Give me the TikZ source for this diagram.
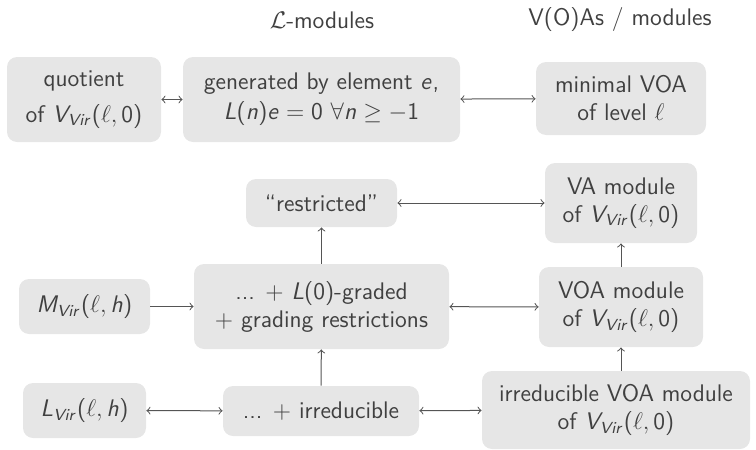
\documentclass[tikz,border=0pt]{standalone}
\usepackage{amsmath}
\usepackage{amssymb}
\usepackage{tikz}

% sans serif math, as on the slides
\DeclareSymbolFont{operators}{OT1}{cmss}{m}{n}
\DeclareSymbolFont{sfletters}{OT1}{cmss}{m}{sl}
\newcommand{\sfletter}[1]{\DeclareMathSymbol{#1}{\mathalpha}{sfletters}{`#1}}
\sfletter{V}\sfletter{i}\sfletter{r}\sfletter{L}\sfletter{M}\sfletter{n}\sfletter{e}\sfletter{h}
\newcommand{\Vvir}{V_{Vir}(\ell,0)}

\definecolor{boxgray}{HTML}{E6E6E6}
\definecolor{textgray}{HTML}{404040}
\definecolor{linegray}{HTML}{555555}

\begin{document}
\begin{tikzpicture}[x=0.5pt,y=-0.5pt,
    box/.style={fill=boxgray,rounded corners=5pt,inner sep=0pt,align=center,
      text=textgray,font=\sffamily\fontsize{12}{14}\selectfont},
    head/.style={text=textgray,font=\sffamily\fontsize{12}{14}\selectfont},
    link/.style={draw=linegray,line width=0.5pt}]
  \useasboundingbox (0,0) rectangle (756,450);
  \node[head] (lmod) at (322,20) {$\mathcal{L}$-modules};
  \node[head] (voas) at (620,20) {V(O)As / modules};
  % top row
  \node[box,minimum width=77pt,minimum height=42.5pt] (quot) at (84,99.5) {quotient\\[4pt]of $\Vvir$};
  \node[box,minimum width=138.5pt,minimum height=42.5pt] (gen) at (321.5,99.5) {generated by element $e$,\\[1pt]$L(n)e = 0\ \forall n \geq -1$};
  \node[box,minimum width=85pt,minimum height=36.5pt] (minvoa) at (621,98.5) {minimal VOA\\of level $\ell$};
  % modules
  \node[box,minimum width=75.5pt,minimum height=24pt] (restr) at (321.5,203) {``restricted''};
  \node[box,minimum width=76pt,minimum height=40pt] (vamod) at (621,203) {VA module\\of $\Vvir$};
  \node[box,minimum width=65.5pt,minimum height=27.5pt] (mvir) at (84.5,306.5) {$M_{Vir}(\ell,h)$};
  \node[box,minimum width=127.5pt,minimum height=42.5pt] (graded) at (321.5,306.5) {... $+$ $L(0)$-graded\\$+$ grading restrictions};
  \node[box,minimum width=82pt,minimum height=40pt] (voamod) at (621,307) {VOA module\\of $\Vvir$};
  \node[box,minimum width=61.5pt,minimum height=27.5pt] (lvir) at (84.5,410.5) {$L_{Vir}(\ell,h)$};
  \node[box,minimum width=98pt,minimum height=25pt] (irred) at (321,411) {... $+$ irreducible};
  \node[box,minimum width=134pt,minimum height=39pt] (irrvoa) at (616,410) {irreducible VOA module\\of $\Vvir$};

  \draw[link,<->] (quot) -- (gen);
  \draw[link,<->] (gen) -- (minvoa);
  \draw[link,<->] (restr) -- (vamod);
  \draw[link,->] (graded) -- (restr);
  \draw[link,->] (mvir) -- (graded);
  \draw[link,<->] (graded) -- (voamod);
  \draw[link,->] (voamod) -- (vamod);
  \draw[link,<->] (lvir) -- (irred);
  \draw[link,<->] (irred) -- (irrvoa);
  \draw[link,->] (irred) -- (graded);
  \draw[link,->] (irrvoa.north -| voamod) -- (voamod);
\end{tikzpicture}
\end{document}
